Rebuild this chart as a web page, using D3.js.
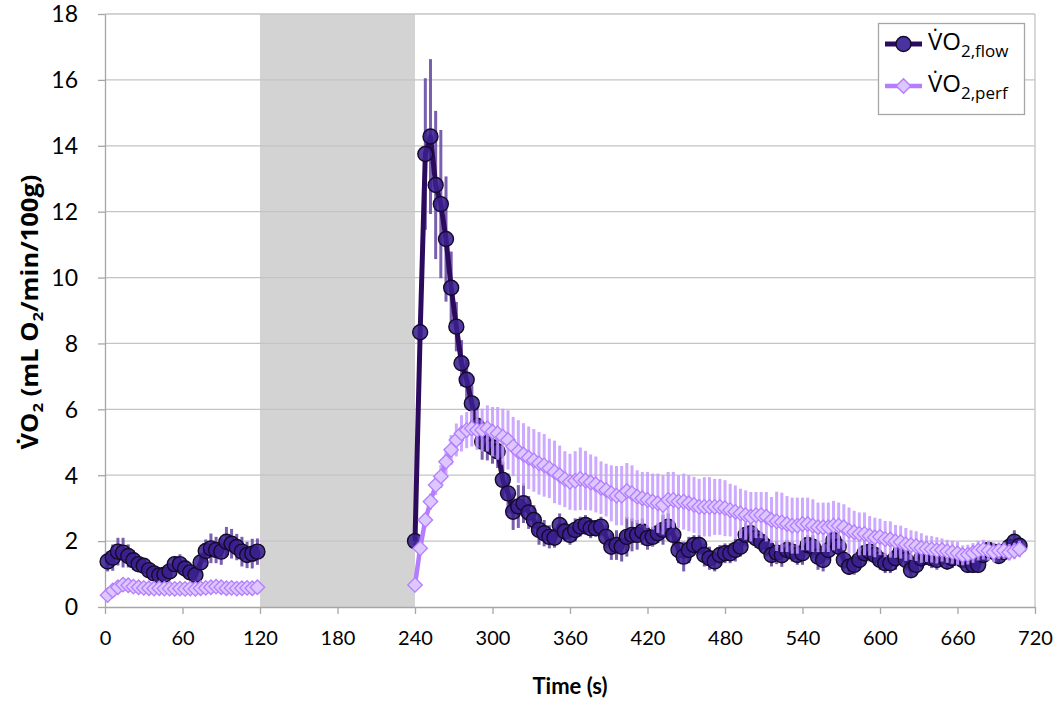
<!DOCTYPE html>
<html>
<head>
<meta charset="utf-8">
<script src="https://cdn.jsdelivr.net/npm/d3@7"></script>
<style>
  html, body { margin: 0; padding: 0; background: #ffffff; }
  svg { display: block; }
</style>
</head>
<body>
<svg id="chart" width="1064" height="702"></svg>
<script>
// Sample times (s): baseline block and recovery block, 4 s apart
const restTimes = d3.range(2, 119, 4);
const recTimes = d3.range(240, 709, 4);

// Occlusion window (s)
const occlusion = [120, 240];

// VO2 from flow, baseline
const flowRest = [1.38, 1.50, 1.68, 1.65, 1.55, 1.42, 1.30, 1.25, 1.12, 1.02,
                  0.96, 0.98, 1.08, 1.30, 1.30, 1.17, 1.05, 0.97, 1.35, 1.70,
                  1.78, 1.73, 1.68, 1.98, 1.92, 1.82, 1.68, 1.58, 1.62, 1.68];
const flowRestErr = [0.30, 0.40, 0.42, 0.45, 0.35, 0.30, 0.25, 0.22, 0.20, 0.18,
                     0.18, 0.20, 0.22, 0.25, 0.30, 0.25, 0.20, 0.20, 0.30, 0.35,
                     0.45, 0.40, 0.40, 0.45, 0.45, 0.40, 0.45, 0.40, 0.45, 0.40];

// VO2 from perfusion, baseline
const perfRest = [0.36, 0.50, 0.60, 0.68, 0.66, 0.62, 0.60, 0.58, 0.57, 0.56,
                  0.57, 0.56, 0.56, 0.55, 0.56, 0.55, 0.56, 0.55, 0.57, 0.58,
                  0.60, 0.62, 0.60, 0.57, 0.58, 0.56, 0.57, 0.58, 0.57, 0.60];
const perfRestErr = [0.05, 0.06, 0.08, 0.08, 0.07, 0.07, 0.06, 0.06, 0.07, 0.06,
                     0.06, 0.07, 0.06, 0.06, 0.07, 0.06, 0.06, 0.07, 0.06, 0.07,
                     0.08, 0.08, 0.07, 0.07, 0.06, 0.07, 0.06, 0.07, 0.07, 0.08];

// VO2 from flow, recovery
const flowRec = [2.00, 8.34, 13.75, 14.28, 12.81, 12.23, 11.17, 9.69, 8.51, 7.40,
                 6.90, 6.18, 5.50, 5.02, 4.95, 4.85, 4.72, 3.86, 3.45, 2.89,
                 3.05, 3.15, 2.87, 2.64, 2.34, 2.24, 2.13, 2.10, 2.49, 2.29,
                 2.19, 2.34, 2.44, 2.49, 2.39, 2.39, 2.44, 2.13, 1.83, 1.88,
                 1.83, 2.13, 2.19, 2.19, 2.29, 2.09, 2.13, 2.24, 2.34, 2.44,
                 2.19, 1.73, 1.53, 1.73, 1.88, 1.88, 1.58, 1.48, 1.38, 1.58,
                 1.63, 1.63, 1.73, 1.83, 2.19, 2.24, 2.09, 1.98, 1.83, 1.58,
                 1.65, 1.57, 1.73, 1.68, 1.58, 1.63, 1.88, 1.83, 1.53, 1.43,
                 1.73, 2.03, 1.83, 1.43, 1.22, 1.28, 1.43, 1.63, 1.68, 1.58,
                 1.43, 1.33, 1.33, 1.48, 1.68, 1.43, 1.12, 1.28, 1.48, 1.53,
                 1.48, 1.43, 1.53, 1.38, 1.48, 1.53, 1.43, 1.28, 1.28, 1.28,
                 1.58, 1.73, 1.68, 1.55, 1.67, 1.82, 1.98, 1.86];
const flowRecErr = [0.15, 0.30, 2.30, 2.35, 2.25, 2.25, 1.90, 1.10, 0.75, 0.70,
                    0.60, 0.55, 0.55, 0.55, 0.50, 0.50, 0.50, 0.55, 0.60, 0.55,
                    0.65, 0.60, 0.50, 0.45, 0.45, 0.40, 0.35, 0.30, 0.35, 0.30,
                    0.30, 0.35, 0.30, 0.30, 0.30, 0.25, 0.30, 0.35, 0.40, 0.45,
                    0.45, 0.60, 0.50, 0.45, 0.40, 0.35, 0.30, 0.30, 0.45, 0.40,
                    0.35, 0.40, 0.45, 0.40, 0.30, 0.30, 0.35, 0.35, 0.30, 0.30,
                    0.30, 0.30, 0.35, 0.30, 0.35, 0.30, 0.30, 0.30, 0.30, 0.35,
                    0.35, 0.35, 0.30, 0.30, 0.30, 0.35, 0.30, 0.35, 0.40, 0.35,
                    0.30, 0.35, 0.30, 0.30, 0.25, 0.30, 0.30, 0.35, 0.30, 0.30,
                    0.30, 0.30, 0.30, 0.35, 0.40, 0.30, 0.25, 0.30, 0.30, 0.25,
                    0.30, 0.30, 0.25, 0.25, 0.30, 0.25, 0.25, 0.25, 0.25, 0.25,
                    0.25, 0.25, 0.25, 0.20, 0.20, 0.25, 0.35, 0.25];

// VO2 from perfusion, recovery
const perfRec = [0.67, 1.78, 2.64, 3.20, 3.70, 3.96, 4.41, 4.77, 5.07, 5.27,
                 5.37, 5.42, 5.37, 5.37, 5.42, 5.32, 5.27, 5.17, 5.07, 4.87,
                 4.72, 4.63, 4.53, 4.45, 4.36, 4.30, 4.21, 4.10, 4.00, 3.88,
                 3.80, 3.83, 3.89, 3.84, 3.78, 3.72, 3.62, 3.55, 3.45, 3.38,
                 3.38, 3.52, 3.45, 3.35, 3.30, 3.25, 3.20, 3.15, 3.10, 3.25,
                 3.25, 3.20, 3.20, 3.15, 3.10, 3.04, 3.04, 3.04, 3.04, 3.04,
                 3.00, 2.94, 2.89, 2.84, 2.79, 2.74, 2.79, 2.79, 2.74, 2.64,
                 2.60, 2.57, 2.52, 2.47, 2.47, 2.52, 2.52, 2.47, 2.42, 2.42,
                 2.42, 2.47, 2.47, 2.42, 2.32, 2.27, 2.22, 2.22, 2.16, 2.11,
                 2.13, 2.06, 2.05, 1.99, 1.97, 1.90, 1.88, 1.85, 1.79, 1.77,
                 1.75, 1.72, 1.73, 1.69, 1.66, 1.63, 1.57, 1.59, 1.64, 1.71,
                 1.74, 1.71, 1.66, 1.71, 1.71, 1.66, 1.70, 1.76];
const perfRecErr = [0.10, 0.15, 0.20, 0.25, 0.30, 0.35, 0.40, 0.45, 0.50, 0.55,
                    0.55, 0.55, 0.60, 0.65, 0.70, 0.75, 0.80, 0.85, 0.90, 0.90,
                    0.95, 0.95, 0.95, 0.95, 0.95, 0.95, 0.90, 0.95, 0.90, 0.85,
                    0.85, 0.90, 0.95, 0.90, 0.85, 0.85, 0.80, 0.80, 0.85, 0.90,
                    0.90, 0.85, 0.85, 0.80, 0.80, 0.85, 0.85, 0.90, 0.90, 0.85,
                    0.85, 0.80, 0.85, 0.85, 0.85, 0.85, 0.90, 0.90, 0.85, 0.85,
                    0.85, 0.80, 0.80, 0.75, 0.75, 0.75, 0.70, 0.70, 0.75, 0.70,
                    0.90, 0.90, 0.85, 0.85, 0.85, 0.80, 0.80, 0.80, 0.75, 0.75,
                    0.75, 0.75, 0.70, 0.70, 0.70, 0.65, 0.65, 0.65, 0.60, 0.60,
                    0.55, 0.55, 0.55, 0.50, 0.50, 0.50, 0.45, 0.45, 0.45, 0.40,
                    0.40, 0.40, 0.35, 0.35, 0.35, 0.35, 0.30, 0.30, 0.30, 0.30,
                    0.30, 0.30, 0.30, 0.25, 0.25, 0.25, 0.25, 0.25];

// Axis ticks
const xTicks = d3.range(0, 721, 60);
const yTicks = d3.range(0, 19, 2);

// ---- layout ----
const svg = d3.select("#chart");
const plot = { left: 105, right: 1035, top: 14, bottom: 607 };

const x = d3.scaleLinear().domain([0, 720]).range([plot.left, plot.right]);
const y = d3.scaleLinear().domain([0, 18]).range([plot.bottom, plot.top]);

const FLOW_LINE = "#2c0b5e";
const FLOW_FILL = "#3a2090";
const FLOW_ERR = "#6b4ea6";
const PERF_LINE = "#b47dff";
const PERF_FILL = "#dcc7ff";
const PERF_ERR = "#c59cff";

// occlusion band
svg.append("rect")
  .attr("x", x(occlusion[0]))
  .attr("y", plot.top)
  .attr("width", x(occlusion[1]) - x(occlusion[0]))
  .attr("height", plot.bottom - plot.top)
  .attr("fill", "#d3d3d3");

// horizontal gridlines
svg.append("g")
  .selectAll("line")
  .data(yTicks.filter(d => d > 0))
  .join("line")
  .attr("x1", plot.left).attr("x2", plot.right)
  .attr("y1", d => y(d)).attr("y2", d => y(d))
  .attr("stroke", "#c4c4c4")
  .attr("stroke-width", 1.3);

// right frame
svg.append("line")
  .attr("x1", plot.right).attr("x2", plot.right)
  .attr("y1", plot.top).attr("y2", plot.bottom)
  .attr("stroke", "#c4c4c4").attr("stroke-width", 1.3);

// axes
const xAxis = d3.axisBottom(x).tickValues(xTicks).tickSize(7).tickSizeOuter(0);
const gx = svg.append("g").attr("transform", `translate(0,${plot.bottom})`).call(xAxis);
gx.select(".domain").attr("stroke", "#a6a6a6").attr("stroke-width", 1.3);
gx.selectAll(".tick line").attr("stroke", "#a6a6a6").attr("stroke-width", 1.3);
gx.selectAll(".tick text")
  .attr("y", 24)
  .attr("dy", "0.71em")
  .attr("fill", "#000")
  .style("font-family", "Lato, 'Open Sans', sans-serif")
  .style("font-size", "20px");

const yAxis = d3.axisLeft(y).tickValues(yTicks).tickSize(7).tickSizeOuter(0);
const gy = svg.append("g").attr("transform", `translate(${plot.left},0)`).call(yAxis);
gy.select(".domain").attr("stroke", "#a6a6a6").attr("stroke-width", 1.3);
gy.selectAll(".tick line").attr("stroke", "#a6a6a6").attr("stroke-width", 1.3);
gy.selectAll(".tick text")
  .attr("x", -27)
  .attr("dy", "0.34em")
  .attr("fill", "#000")
  .style("font-family", "Lato, 'Open Sans', sans-serif")
  .style("font-size", "23px");

// axis titles
svg.append("text")
  .attr("x", (plot.left + plot.right) / 2)
  .attr("y", 694)
  .attr("text-anchor", "middle")
  .style("font-family", "Lato, 'Open Sans', sans-serif")
  .style("font-weight", "bold")
  .style("font-size", "22px")
  .text("Time (s)");

const yTitle = svg.append("text")
  .attr("transform", "translate(38,312) rotate(-90)")
  .attr("text-anchor", "middle")
  .attr("textLength", 275)
  .attr("lengthAdjust", "spacingAndGlyphs")
  .style("font-family", "'Open Sans', sans-serif")
  .style("font-weight", "bold")
  .style("font-size", "23px");
yTitle.append("tspan").text("V\u0307O");
yTitle.append("tspan").attr("dy", 5).style("font-size", "15px").text("2");
yTitle.append("tspan").attr("dy", -5).text(" (mL O");
yTitle.append("tspan").attr("dy", 5).style("font-size", "15px").text("2");
yTitle.append("tspan").attr("dy", -5).text("/min/100g)");

// ---- series ----
function pack(times, vals, errs) {
  return times.map((t, i) => ({ t, v: vals[i], e: errs[i] }));
}
const flowSegs = [pack(restTimes, flowRest, flowRestErr), pack(recTimes, flowRec, flowRecErr)];
const perfSegs = [pack(restTimes, perfRest, perfRestErr), pack(recTimes, perfRec, perfRecErr)];

const line = d3.line().x(d => x(d.t)).y(d => y(d.v));

function drawErr(segs, color, width, opacity) {
  svg.append("g")
    .selectAll("line")
    .data(segs.flat())
    .join("line")
    .attr("x1", d => x(d.t)).attr("x2", d => x(d.t))
    .attr("y1", d => y(d.v + d.e)).attr("y2", d => y(d.v - d.e))
    .attr("stroke", color)
    .attr("stroke-width", width)
    .attr("opacity", opacity);
}

// flow series
drawErr(flowSegs, FLOW_ERR, 3, 0.9);
svg.append("g").selectAll("path").data(flowSegs).join("path")
  .attr("d", line)
  .attr("fill", "none")
  .attr("stroke", FLOW_LINE)
  .attr("stroke-width", 5)
  .attr("stroke-linejoin", "round");
svg.append("g").selectAll("circle").data(flowSegs.flat()).join("circle")
  .attr("cx", d => x(d.t)).attr("cy", d => y(d.v))
  .attr("r", 7.5)
  .attr("fill", FLOW_FILL)
  .attr("fill-opacity", 0.88)
  .attr("stroke", "#140a2a")
  .attr("stroke-width", 1.4);

// perfusion series
drawErr(perfSegs, PERF_ERR, 3, 0.85);
svg.append("g").selectAll("path").data(perfSegs).join("path")
  .attr("d", line)
  .attr("fill", "none")
  .attr("stroke", PERF_LINE)
  .attr("stroke-width", 4.5)
  .attr("stroke-linejoin", "round");
const diamond = d3.symbol(d3.symbolSquare, 105);
svg.append("g").selectAll("path").data(perfSegs.flat()).join("path")
  .attr("d", diamond)
  .attr("transform", d => `translate(${x(d.t)},${y(d.v)}) rotate(45)`)
  .attr("fill", PERF_FILL)
  .attr("stroke", PERF_LINE)
  .attr("stroke-width", 1.3);

// ---- legend ----
const legend = svg.append("g");
legend.append("rect")
  .attr("x", 878.5).attr("y", 23.5)
  .attr("width", 146).attr("height", 91)
  .attr("fill", "#fff")
  .attr("stroke", "#a6a6a6")
  .attr("stroke-width", 1.3);

const legendItems = [
  { sub: "2,flow", cy: 44, line: FLOW_LINE, lw: 5, kind: "circle" },
  { sub: "2,perf", cy: 86, line: PERF_LINE, lw: 4.5, kind: "diamond" }
];
legendItems.forEach(it => {
  legend.append("line")
    .attr("x1", 885).attr("x2", 922)
    .attr("y1", it.cy).attr("y2", it.cy)
    .attr("stroke", it.line).attr("stroke-width", it.lw);
  if (it.kind === "circle") {
    legend.append("circle")
      .attr("cx", 903.5).attr("cy", it.cy).attr("r", 7.5)
      .attr("fill", "#4a33a0").attr("stroke", "#140a2a").attr("stroke-width", 1.4);
  } else {
    legend.append("path")
      .attr("d", diamond)
      .attr("transform", `translate(903.5,${it.cy}) rotate(45)`)
      .attr("fill", PERF_FILL).attr("stroke", PERF_LINE).attr("stroke-width", 1.3);
  }
  const t = legend.append("text")
    .attr("x", 928).attr("y", it.cy + 6)
    .style("font-family", "'Open Sans', sans-serif")
    .style("font-size", "24px")
    .attr("fill", "#000");
  t.append("tspan").text("V\u0307O");
  t.append("tspan").attr("dy", 7).style("font-size", "17px").text(it.sub);
});
</script>
</body>
</html>
